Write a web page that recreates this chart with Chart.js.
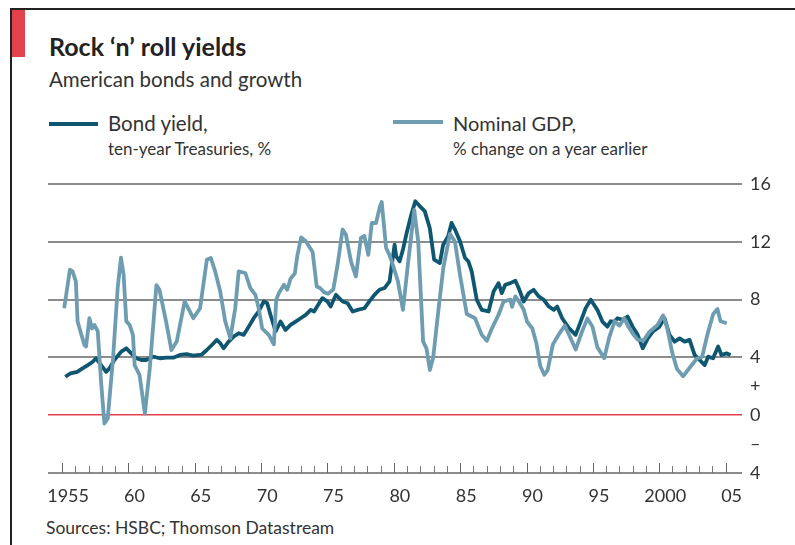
<!DOCTYPE html>
<html>
<head>
<meta charset="utf-8">
<script src="https://cdn.jsdelivr.net/npm/chart.js@4"></script>
<style>
  body { margin: 0; background: #fff; }
  #wrap { position: relative; width: 795px; height: 545px; overflow: hidden; font-family: Lato, "Open Sans", sans-serif; color: #222; }
  #wrap div.t { position: absolute; white-space: nowrap; line-height: 1; }
  #chart-box { position: absolute; left: 0; top: 0; width: 795px; height: 545px; }
</style>
</head>
<body>
<div id="wrap">
  <div style="position:absolute;left:10px;top:8px;width:785px;height:2px;background:#222"></div>
  <div style="position:absolute;left:10px;top:8px;width:2px;height:537px;background:#222"></div>
  <div style="position:absolute;left:12px;top:10px;width:13px;height:47px;background:#e3414b"></div>

  <div class="t" style="left:49px;top:34px;font-size:25px;font-weight:bold;">Rock ‘n’ roll yields</div>
  <div class="t" style="left:49px;top:69px;font-size:20.5px;color:#333;">American bonds and growth</div>

  <div style="position:absolute;left:49px;top:122px;width:49px;height:4px;background:#0f5670"></div>
  <div class="t" style="left:108px;top:113px;font-size:20.5px;color:#333;">Bond yield,</div>
  <div class="t" style="left:108px;top:140px;font-size:17px;color:#333;">ten-year Treasuries, %</div>

  <div style="position:absolute;left:393px;top:120px;width:50px;height:4px;background:#6e9cb1"></div>
  <div class="t" style="left:453px;top:113px;font-size:20px;color:#333;">Nominal GDP,</div>
  <div class="t" style="left:453px;top:140px;font-size:17px;color:#333;">% change on a year earlier</div>

  <div class="t" style="left:46px;top:519px;font-size:17.5px;color:#333;">Sources: HSBC; Thomson Datastream</div>

  <div id="chart-box"><canvas id="chart"></canvas></div>
</div>
<script>
// Bond yield, ten-year Treasuries, %
const bondYears = [
  1955.2, 1955.6, 1956.1, 1956.5, 1956.9, 1957.27, 1957.52, 1957.9, 1958.28, 1958.53,
  1958.9, 1959.42, 1959.8, 1960.18, 1960.56, 1960.94, 1961.3, 1961.82, 1962.33, 1962.83,
  1963.34, 1963.84, 1964.35, 1964.85, 1965.49, 1965.87, 1966.25, 1966.62, 1966.88, 1967.13,
  1967.51, 1967.89, 1968.27, 1968.65, 1969.03, 1969.4, 1969.78, 1970.16, 1970.42, 1970.67,
  1971.05, 1971.42, 1971.8, 1972.18, 1972.56, 1972.94, 1973.32, 1973.7, 1973.95, 1974.33,
  1974.58, 1974.96, 1975.2, 1975.6, 1976.1, 1976.48, 1976.86, 1977.23, 1977.74, 1978.12,
  1978.5, 1978.88, 1979.26, 1979.64, 1979.81, 1980.02, 1980.14, 1980.4, 1980.65, 1980.9,
  1981.28, 1981.58, 1981.91, 1982.29, 1982.67, 1983.0, 1983.43, 1983.68, 1984.06, 1984.31,
  1984.57, 1984.95, 1985.33, 1985.58, 1985.83, 1986.21, 1986.59, 1987.1, 1987.48, 1987.85,
  1988.1, 1988.36, 1988.74, 1989.12, 1989.37, 1989.75, 1990.13, 1990.5, 1990.88, 1991.26,
  1991.64, 1992.02, 1992.27, 1992.65, 1993.16, 1993.66, 1994.04, 1994.42, 1994.8, 1995.3,
  1995.68, 1996.06, 1996.3, 1996.57, 1996.82, 1997.2, 1997.58, 1997.96, 1998.34, 1998.72,
  1999.1, 1999.48, 1999.98, 2000.36, 2000.74, 2001.12, 2001.5, 2001.88, 2002.25, 2002.63,
  2003.01, 2003.39, 2003.65, 2004.02, 2004.4, 2004.65, 2005.03, 2005.34
];
const bondValues = [
  2.66, 2.89, 3.0, 3.24, 3.47, 3.7, 3.94, 3.47, 3.0, 3.24,
  3.82, 4.4, 4.63, 4.28, 3.94, 3.82, 3.82, 4.05, 3.94, 3.98,
  3.98, 4.17, 4.22, 4.12, 4.2, 4.51, 4.86, 5.21, 4.98, 4.63,
  5.09, 5.44, 5.67, 5.56, 6.13, 6.71, 7.18, 7.87, 7.75, 6.94,
  5.79, 6.48, 5.9, 6.25, 6.48, 6.71, 6.94, 7.29, 7.18, 7.75,
  8.1, 7.87, 7.52, 8.33, 7.87, 7.75, 7.18, 7.29, 7.4, 7.87,
  8.33, 8.68, 8.8, 9.26, 10.42, 11.8, 11.0, 10.65, 11.46, 12.5,
  13.89, 14.81, 14.47, 14.12, 12.96, 10.76, 10.53, 11.8, 12.38, 13.31,
  12.85, 12.04, 10.88, 10.65, 9.95, 7.99, 7.29, 7.18, 8.56, 9.14,
  8.45, 9.03, 9.14, 9.3, 8.8, 7.87, 8.45, 8.68, 8.22, 7.99,
  7.52, 7.29, 7.52, 6.71, 6.02, 5.56, 6.48, 7.41, 7.99, 7.29,
  6.48, 6.13, 6.5, 6.48, 6.71, 6.6, 6.83, 6.13, 5.56, 4.63,
  5.32, 5.79, 6.13, 6.71, 5.56, 5.09, 5.32, 5.09, 5.21, 4.17,
  3.82, 3.47, 4.05, 3.94, 4.75, 4.17, 4.28, 4.17
];

// Nominal GDP, % change on a year earlier
const gdpYears = [
  1955.12, 1955.55, 1955.75, 1956.0, 1956.13, 1956.64, 1956.77, 1957.02, 1957.22, 1957.4,
  1957.65, 1957.9, 1958.15, 1958.4, 1958.8, 1959.15, 1959.4, 1959.6, 1959.8, 1960.05,
  1960.3, 1960.43, 1960.8, 1961.2, 1961.57, 1962.07, 1962.3, 1962.8, 1963.2, 1963.6,
  1964.2, 1964.85, 1965.36, 1965.87, 1966.17, 1966.5, 1966.88, 1967.26, 1967.64, 1968.01,
  1968.27, 1968.77, 1969.15, 1969.53, 1969.78, 1970.04, 1970.54, 1970.92, 1971.1, 1971.3,
  1971.68, 1971.93, 1972.18, 1972.5, 1972.7, 1972.98, 1973.33, 1973.84, 1974.15, 1974.4,
  1974.72, 1975.0, 1975.4, 1975.72, 1976.1, 1976.35, 1976.73, 1977.1, 1977.48, 1977.74,
  1978.04, 1978.3, 1978.62, 1978.9, 1979.05, 1979.38, 1979.63, 1979.89, 1980.27, 1980.65,
  1981.03, 1981.5, 1981.8, 1982.17, 1982.42, 1982.68, 1982.93, 1983.31, 1983.69, 1984.19,
  1984.57, 1984.95, 1985.46, 1986.08, 1986.59, 1986.97, 1987.35, 1987.85, 1988.23, 1988.74,
  1988.87, 1989.12, 1989.37, 1989.75, 1990.0, 1990.4, 1990.7, 1991.0, 1991.3, 1991.55,
  1991.95, 1992.4, 1992.85, 1993.25, 1993.67, 1994.17, 1994.55, 1994.93, 1995.3, 1995.82,
  1996.2, 1996.6, 1996.96, 1997.33, 1997.65, 1998.0, 1998.35, 1998.8, 1999.25, 1999.8,
  2000.25, 2000.55, 2000.95, 2001.3, 2001.77, 2002.27, 2002.78, 2003.2, 2003.6, 2004.03,
  2004.35, 2004.58, 2005.05
];
const gdpValues = [
  7.4, 10.07, 9.95, 9.26, 6.48, 4.86, 4.75, 6.71, 6.0, 6.25,
  5.8, 2.3, -0.58, -0.23, 3.9, 8.8, 10.9, 9.7, 6.5, 6.25,
  5.56, 3.47, 2.78, 0.12, 3.24, 9.0, 8.68, 6.48, 4.51, 5.1,
  7.87, 6.71, 7.4, 10.76, 10.88, 9.95, 8.56, 6.48, 5.32, 7.4,
  9.95, 9.84, 8.8, 8.33, 7.4, 6.0, 5.56, 4.9, 8.0, 8.45,
  9.03, 8.68, 9.45, 9.8, 11.1, 12.3, 12.04, 11.3, 8.9, 8.8,
  8.5, 8.4, 8.7, 10.4, 12.85, 12.5, 10.65, 9.6, 12.27, 12.4,
  11.1, 13.3, 13.3, 14.4, 14.75, 11.57, 11.1, 10.4, 9.26, 7.29,
  10.5, 14.2, 12.0, 5.09, 4.63, 3.13, 4.0, 7.18, 10.19, 12.55,
  12.0, 9.7, 7.0, 6.71, 5.56, 5.15, 6.0, 6.94, 7.87, 8.0,
  7.5, 8.22, 7.9, 7.3, 6.48, 6.0, 5.0, 3.4, 2.8, 3.1,
  4.9, 5.6, 6.2, 5.4, 4.55, 5.85, 6.7, 6.13, 4.7, 3.95,
  5.4, 6.5, 6.2, 6.71, 6.1, 5.6, 5.21, 5.2, 5.8, 6.2,
  6.9, 6.1, 4.3, 3.2, 2.7, 3.3, 3.9, 4.05, 5.6, 7.0,
  7.35, 6.5, 6.36
];

// Axis ticks and labels
const yTickValues = [16, 12, 8, 4, 2, 0, -2, -4];
const yTickLabels = ['16', '12', '8', '4', '+', '0', '–', '4'];
const xLabelYears = [1955, 1960, 1965, 1970, 1975, 1980, 1985, 1990, 1995, 2000, 2005];
const xLabels = ['1955', '60', '65', '70', '75', '80', '85', '90', '95', '2000', '05'];
const xMin = 1953.9;
const xMax = 2006.2;

const allYears = [];
for (let y = 1955; y <= 2005; y++) allYears.push(y);

const toPoints = (xs, ys) => xs.map((x, i) => ({ x: x, y: ys[i] }));

const ctx = document.getElementById('chart').getContext('2d');
new Chart(ctx, {
  type: 'line',
  data: {
    datasets: [
      {
        label: 'Bond yield',
        data: toPoints(bondYears, bondValues),
        borderColor: '#0f5670',
        borderWidth: 3.8,
        pointRadius: 0,
        tension: 0,
        borderJoinStyle: 'round',
        order: 2,
      },
      {
        label: 'Nominal GDP',
        data: toPoints(gdpYears, gdpValues),
        borderColor: '#6e9cb1',
        borderWidth: 3.8,
        pointRadius: 0,
        tension: 0,
        borderJoinStyle: 'round',
        order: 1,
      },
    ],
  },
  options: {
    responsive: true,
    maintainAspectRatio: false,
    devicePixelRatio: 1,
    animation: false,
    layout: { padding: { top: 184, left: 48, right: 0, bottom: 72 } },
    plugins: { legend: { display: false }, tooltip: { enabled: false } },
    scales: {
      y: {
        position: 'right',
        min: -4,
        max: 16,
        afterFit: (s) => { s.width = 53; },
        afterBuildTicks: (s) => { s.ticks = yTickValues.map((v) => ({ value: v })); },
        border: { display: false },
        grid: {
          drawTicks: false,
          color: (c) => {
            const v = c.tick.value;
            if (v === 0) return '#e3414b';
            if (v === 2 || v === -2) return 'rgba(0,0,0,0)';
            return '#8c8c8c';
          },
          lineWidth: (c) => (c.tick.value === 0 ? 1.5 : 2),
        },
        ticks: {
          padding: 8,
          color: '#333',
          font: { family: 'Lato', size: 18 },
          callback: (v, i) => yTickLabels[i],
        },
      },
      x: {
        type: 'linear',
        position: { y: -3.5 },
        min: xMin,
        max: xMax,
        afterBuildTicks: (s) => { s.ticks = allYears.map((v) => ({ value: v })); },
        border: { display: false },
        grid: { drawOnChartArea: false, drawTicks: true, tickLength: 7, color: '#777', lineWidth: 1 },
        ticks: { display: false },
      },
      x5: {
        type: 'linear',
        position: { y: -3.3 },
        min: xMin,
        max: xMax,
        afterBuildTicks: (s) => { s.ticks = xLabelYears.map((v) => ({ value: v })); },
        border: { display: false },
        grid: { drawOnChartArea: false, drawTicks: true, tickLength: 10, color: '#666', lineWidth: 1 },
        ticks: {
          autoSkip: false,
          maxRotation: 0,
          padding: 13,
          labelOffset: 5.5,
          color: '#333',
          font: { family: 'Lato', size: 18 },
          callback: (v, i) => xLabels[i],
        },
      },
    },
  },
});
</script>
</body>
</html>
